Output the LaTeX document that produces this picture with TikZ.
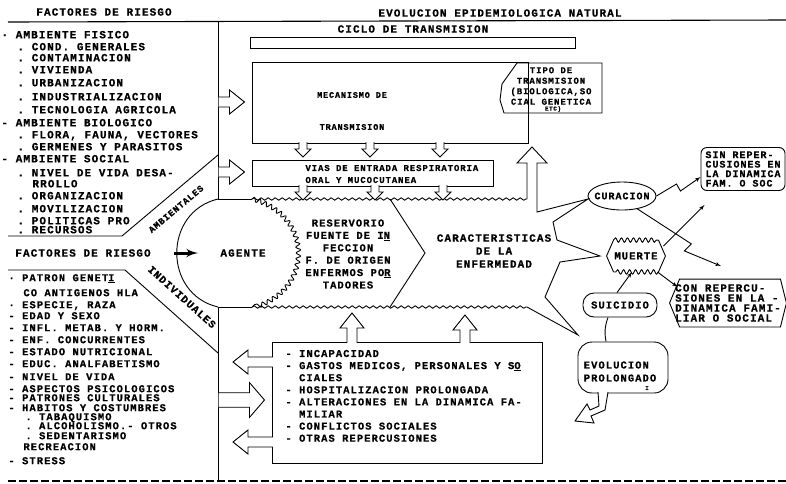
\documentclass[tikz,border=0pt]{standalone}
\usepackage{fontspec}
\setmonofont{Liberation Mono}[LetterSpace=10, BoldFeatures={FakeBold=0.6}]
\usetikzlibrary{arrows, shapes.geometric, decorations.pathmorphing}

%% typewriter font: size, line spacing
\newcommand{\typew}[2]{\ttfamily\bfseries\fontsize{#1}{#2}\selectfont}

%% hollow block arrow: [width factor] tail x, tail y, angle, length
\newcommand{\blockarrow}[5][1]{%
  \begin{scope}[shift={(#2,#3)}, rotate=#4, yscale=#1]
    \path[draw, fill=white] (0,-5) -- (#5-15,-5) -- (#5-15,-12) -- (#5,0)
      -- (#5-15,12) -- (#5-15,5) -- (0,5);
  \end{scope}}

%% small downward notch hanging from a box edge at (x,y)
\newcommand{\notch}[2]{%
  \path[draw, fill=white] (#1-4,#2-1) -- (#1-4,#2+6) -- (#1-8,#2+6)
    -- (#1,#2+14) -- (#1+8,#2+6) -- (#1+4,#2+6) -- (#1+4,#2-1);}

\begin{document}
\begin{tikzpicture}[x=1pt, y=-1pt, line width=0.9pt, inner sep=0pt,
    font=\typew{11}{12},
    wave/.style={decorate, decoration={snake, amplitude=1.2pt, segment length=7pt}},
    gear/.style={decorate, decoration={snake, amplitude=2.2pt, segment length=6pt}}]
  \useasboundingbox (0,0) rectangle (786,483);

  %% headings
  \node (hdrleft) at (104,12) {FACTORES DE RIESGO};
  \node (hdrright) at (500,13) {EVOLUCION EPIDEMIOLOGICA NATURAL};
  \draw[line width=1.1pt] (8,22) -- (786,20);

  %% risk factors, environment (y, x, text)
  \foreach \y/\x/\t [count=\i] in {35/1/{· AMBIENTE FISICO}, 47/17/{. COND. GENERALES},
      58/17/{. CONTAMINACION}, 70/17/{. VIVIENDA}, 83/17/{. URBANIZACION},
      97/17/{. INDUSTRIALIZACION}, 110/17/{. TECNOLOGIA AGRICOLA},
      123/1/{- AMBIENTE BIOLOGICO}, 135/17/{. FLORA, FAUNA, VECTORES},
      147/17/{. GERMENES Y PARASITOS}, 159/1/{- AMBIENTE SOCIAL},
      173/17/{. NIVEL DE VIDA DESA-}, 184/32/{RROLLO}, 196/17/{. ORGANIZACION},
      209/17/{. MOVILIZACION}, 221/17/{. POLITICAS PRO}, 230/17/{. RECURSOS}}
    \node[anchor=base west] (amb\i) at (\x,\y+3.3) {\t};

  %% risk factors, individual
  \foreach \y/\x/\t [count=\i] in {278/8/{· PATRON GENET\underline{I}}, 293/23/{CO ANTIGENOS HLA},
      305/8/{· ESPECIE, RAZA}, 316/8/{- EDAD Y SEXO}, 328/8/{- INFL. METAB. Y HORM.},
      340/8/{- ENF. CONCURRENTES}, 352/8/{- ESTADO NUTRICIONAL},
      364/8/{- EDUC. ANALFABETISMO}, 377/8/{- NIVEL DE VIDA},
      389/8/{- ASPECTOS PSICOLOGICOS}, 398/8/{- PATRONES CULTURALES},
      408/8/{- HABITOS Y COSTUMBRES}, 417/25/{. TABAQUISMO},
      426/25/{. ALCOHOLISMO.- OTROS}, 436/25/{. SEDENTARISMO},
      447/23/{RECREACION}, 461/8/{- STRESS}}
    \node[anchor=base west, font=\typew{10.5}{11}] (ind\i) at (\x,\y+3.2) {\t};

  %% left frame and funnel
  \draw (218,22) -- (218,199) -- (252,199);
  \draw (218,307) -- (252,307);
  \draw (218,307) -- (218,481);
  \draw (218,155) -- (122,236) -- (8,236);
  \draw (8,270) -- (125,270) -- (218,353);
  \node[rotate=40, font=\typew{9}{10}] (ambtxt) at (176,209) {AMBIENTALES};
  \node[rotate=-42, font=\typew{10.5}{11}] (indtxt) at (182,297) {INDIVIDUALES};
  \node (riesgo) at (83,253) {FACTORES DE RIESGO};

  %% agent
  \draw (218,199) .. controls (163,212) and (163,294) .. (218,307);
  \draw[gear] (252,199) .. controls (312,215) and (312,291) .. (252,307);
  \node (agente) at (243,253) {AGENTE};
  \draw[-latex', line width=3pt] ([xshift=23pt]riesgo.east) -- ([xshift=-22pt]agente.west);

  %% disease body
  \draw[wave] (252,199) -- (527,199);
  \draw[wave] (252,307) -- (527,307);
  \draw (390,199) -- (425,253) -- (390,307);
  \draw (527,199) -- (527,163) -- (517,163) -- (532,147) -- (547,163) -- (537,163)
    -- (537,212) -- (588,199) -- (553,222) -- (557,240) -- (600,256) -- (560,262)
    -- (545,297) -- (578,335) -- (527,307);
  \node[align=center, font=\typew{10.5}{12.4}] (reservorio) at (348,254)
    {RESERVORIO\\FUENTE DE I\underline{N}\\FECCION\\F. DE ORIGEN\\ENFERMOS PO\underline{R}\\TADORES};
  \node[align=center, font=\typew{11}{13}] (caract) at (494,251)
    {CARACTERISTICAS\\DE LA\\ENFERMEDAD};

  %% transmission
  \node (ciclo) at (413,29) {CICLO DE TRANSMISION};
  \node[draw, minimum width=325, minimum height=11] (ciclobox) at (412.5,42.5) {};
  \node[draw, minimum width=276, minimum height=81] (mecbox) at (390,102.5) {};
  \node[font=\typew{8.5}{9}] (mectxt) at (352,95) {MECANISMO DE};
  \node[font=\typew{8.5}{9}] (mectxtb) at (352,127) {TRANSMISION};
  \node[draw, minimum width=241, minimum height=26] (vias) at (372.5,173) {};
  \node[anchor=west, align=left, font=\typew{9}{12}] (viastxt) at (305,174)
    {VIAS DE ENTRADA RESPIRATORIA\\ORAL Y MUCOCUTANEA};
  \notch{303}{143} \notch{370}{143} \notch{440}{143}
  \notch{303}{186} \notch{375}{186} \notch{443}{186}
  \blockarrow{218.5}{102}{0}{26}
  \blockarrow{218.5}{172}{0}{26}

  \draw (517,63) -- (602,63) -- (602,113) -- (504,113) -- (500,100) -- (502,84) -- cycle;
  \node[align=center, font=\typew{9}{10.5}] (tipo) at (551,86)
    {TIPO DE\\TRANSMISION\\(BIOLOGICA,SO\\CIAL GENETICA};
  \node[font=\typew{6}{6}] (tipoetc) at (553,109) {ETC)};

  %% outcomes
  \node[draw, ellipse, minimum width=68, minimum height=28, inner xsep=-5pt,
    font=\typew{10}{10}] (curacion) at (622,196) {CURACION};
  \node[minimum width=58, minimum height=31, font=\typew{10.5}{11}] (muerte) at (636,256) {MUERTE};
  \draw (muerte.west) -- ([xshift=7pt]muerte.north west);
  \draw[gear] ([xshift=7pt]muerte.north west) -- ([xshift=-7pt]muerte.north east);
  \draw ([xshift=-7pt]muerte.north east) -- (muerte.east) -- ([xshift=-7pt]muerte.south east);
  \draw[gear] ([xshift=-7pt]muerte.south east) -- ([xshift=7pt]muerte.south west);
  \draw ([xshift=7pt]muerte.south west) -- (muerte.west);
  \node[draw, rounded corners=11pt, minimum width=74, minimum height=24,
    font=\typew{10.5}{11}] (suicidio) at (620,305) {SUICIDIO};
  \node[draw, rounded corners=14pt, minimum width=90, minimum height=51] (evol) at (623,367.5) {};
  \node[align=left, font=\typew{10.5}{13}] (evoltxt) at (620,371.5) {EVOLUCION\\PROLONGADO};
  \node[font=\typew{6}{6}] (evolmark) at (647,388) {I};
  \path[draw, fill=white] (598,392) -- (599,406) -- (590,410) -- (587,404) -- (575,421)
    -- (594,423) -- (591,416) -- (605,410) -- (608,392);

  \node[draw, rounded corners=6pt, minimum width=84, minimum height=43, align=left,
    font=\typew{10}{9.5}] (sinrep) at (743,169) {SIN REPER-\\CUSIONES EN\\LA DINAMICA\\FAM. O SOC};
  \node[minimum width=116, minimum height=47, align=left, font=\typew{11}{10}] (conrep) at (728,303)
    {CON REPERCU-\\SIONES EN LA -\\DINAMICA FAMI-\\LIAR O SOCIAL};
  \draw (conrep.west) -- ([xshift=10pt]conrep.north west) -- ([xshift=-6pt]conrep.north east)
    -- (conrep.east) -- ([xshift=-6pt]conrep.south east) -- ([xshift=10pt]conrep.south west) -- cycle;

  \draw[-latex'] ([xshift=-3pt]suicidio.north) -- ([xshift=-4pt]muerte.south);
  \draw ([xshift=-12pt]suicidio.south) to[bend right=15] ([xshift=-17pt]evol.north);
  \draw[-latex'] ([xshift=-2pt, yshift=-6pt]muerte.north east) -- ([xshift=4pt, yshift=-14pt]sinrep.south west);
  \draw[-latex'] ([xshift=-8pt]muerte.south east) -- ([xshift=8pt, yshift=16pt]conrep.west);
  \draw[-latex'] (curacion.east) -- ++(20,-12) -- ++(4,7) -- ([yshift=-8pt]sinrep.west);
  \draw[-latex'] (curacion.-40) -- ++(54,35) -- ++(-7,7) -- ([xshift=-7pt, yshift=13pt]conrep.north);

  %% consequences
  \node[draw, minimum width=270, minimum height=121] (consec) at (407,402.5) {};
  \node[anchor=north west, align=left, font=\typew{10.5}{12.1}] (consectxt) at (285,349.5) {%
    - INCAPACIDAD\\
    - GASTOS MEDICOS, PERSONALES Y S\underline{O}\\
    \phantom{- }CIALES\\
    - HOSPITALIZACION PROLONGADA\\
    - ALTERACIONES EN LA DINAMICA FA-\\
    \phantom{- }MILIAR\\
    - CONFLICTOS SOCIALES\\
    - OTRAS REPERCUSIONES};
  \blockarrow{352}{343}{90}{30}
  \blockarrow{465}{343}{90}{28}
  \blockarrow{273}{362}{180}{40}
  \blockarrow[1.45]{218.5}{400}{0}{46}
  \blockarrow{273}{442}{180}{40}

  \draw[dash pattern=on 8pt off 3pt, line width=1.1pt] (8,481) -- (786,481);
\end{tikzpicture}
\end{document}
